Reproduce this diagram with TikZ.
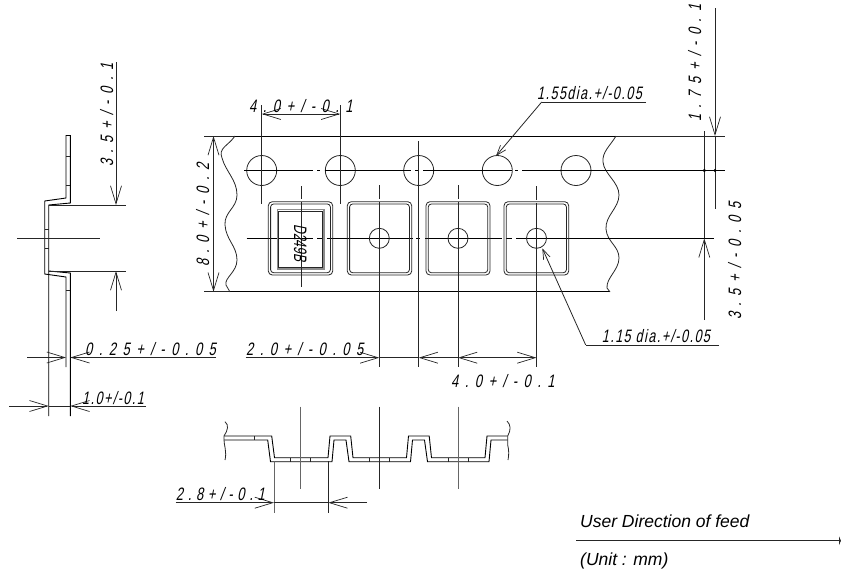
\documentclass[tikz,border=0pt]{standalone}
\usepackage{fontspec}
\setmainfont{Liberation Sans}
\newfontfamily\dimwide[FakeStretch=0.72,FakeSlant=0.2,LetterSpace=36]{Liberation Sans}
\newfontfamily\dimmid[FakeStretch=0.72,FakeSlant=0.2,LetterSpace=26]{Liberation Sans}
\newfontfamily\dimtight[FakeStretch=0.7,FakeSlant=0.2,LetterSpace=8]{Liberation Sans}
\newfontfamily\dimmark[FakeStretch=0.67,FakeSlant=0.2]{Liberation Sans}
\usetikzlibrary{arrows.meta}
\tikzset{
  outline/.style={black, line width=0.9pt},
  thinline/.style={black!85, line width=0.8pt},
  dimtip/.style={-{Straight Barb[length=18pt,width=11pt,line width=0.7pt]}},
  leadertip/.style={-{Straight Barb[length=10pt,width=7pt,line width=0.7pt]}},
  dimtext/.style={inner sep=0pt, anchor=base west, font=\dimwide\fontsize{18}{18}\selectfont},
  midtext/.style={inner sep=0pt, anchor=base west, font=\dimmid\fontsize{18}{18}\selectfont},
  leadertext/.style={inner sep=0pt, anchor=base west, font=\dimtight\fontsize{18}{18}\selectfont},
  notetext/.style={inner sep=0pt, anchor=base west, font=\itshape\fontsize{17.5}{17.5}\selectfont},
}
\begin{document}
\begin{tikzpicture}[x=1pt,y=-1pt]
\useasboundingbox (0,0) rectangle (841,574);

% side view
\draw[outline] (66,135) -- (70.3,135);
\draw[outline] (66,135) -- (66,198) -- (44.7,201) -- (44.7,274) -- (66,277) -- (66,367);
\draw[outline] (70.3,135) -- (70.3,203) -- (48.7,205) -- (48.7,416);
\draw[outline] (48.7,271) -- (70.3,273) -- (70.3,416);
\draw[thinline] (66,156) -- (70.3,156);
\draw[thinline] (66,185) -- (70.3,185);
\draw[thinline] (66,290) -- (70.3,290);
\draw[thinline] (44.7,229) -- (48.7,229);
\draw[thinline] (44.7,248) -- (48.7,248);
\draw[thinline] (17,238) -- (99.5,238);
\draw[thinline] (48.7,205) -- (126,205);
\draw[thinline] (48.7,271) -- (126,271);

\draw[thinline, dimtip] (116,62) -- (116,205);
\draw[thinline, dimtip] (116,311) -- (116,271);
\node[dimtext, rotate=90] at (113,167) {3.5+/-0.1};

\draw[thinline, dimtip] (27,357.5) -- (66,357.5);
\draw[thinline, dimtip] (216,357.5) -- (70.3,357.5);
\node[dimtext] at (85,355) {0.25+/-0.05};
\draw[thinline, dimtip] (9,406) -- (48.7,406);
\draw[thinline] (48.7,406) -- (70.3,406);
\draw[thinline, dimtip] (146,406) -- (70.3,406);
\node[leadertext] at (82,404) {1.0+/-0.1};

% tape, top view
\draw[outline] (235,136.5) -- (616,136.5);
\draw[outline] (230,291.7) -- (610,291.7);
\draw[thinline] (204,136.5) -- (235,136.5);
\draw[thinline] (204,291.7) -- (230,291.7);
\draw[thinline] (616,136.5) -- (725,136.5);
\draw[thinline] (235,136) .. controls (228,146) and (218,148) .. (222,158)
  .. controls (226,172) and (237,180) .. (237,195)
  .. controls (237,208) and (224,212) .. (225,225)
  .. controls (226,240) and (237,246) .. (237,260)
  .. controls (237,272) and (224,278) .. (226,285) -- (230,292);
\draw[thinline] (616,136) .. controls (610,146) and (602,152) .. (603,162)
  .. controls (604,174) and (619,182) .. (619,195)
  .. controls (619,208) and (605,216) .. (606,229)
  .. controls (607,242) and (619,246) .. (619,258)
  .. controls (619,270) and (606,278) .. (607,288) -- (610,292);

% sprocket holes
\draw[thinline] (261.7,170.5) circle (15);
\draw[thinline] (340.3,170.5) circle (15);
\draw[thinline] (418.7,170.5) circle (15);
\draw[thinline] (497.3,170.5) circle (15);
\draw[thinline] (576,170.5) circle (15);

% centre lines
\draw[outline] (244,170.5) -- (313,170.5);
\draw[outline] (317,170.5) -- (320,170.5);
\draw[outline] (325,170.5) -- (411,170.5);
\draw[outline] (415,170.5) -- (418,170.5);
\draw[outline] (423,170.5) -- (512,170.5);
\draw[outline] (515,170.5) -- (518,170.5);
\draw[outline] (522,170.5) -- (725,170.5);
\draw[outline] (246.7,238.3) -- (313,238.3);
\draw[outline] (317,238.3) -- (323,238.3);
\draw[outline] (327,238.3) -- (413,238.3);
\draw[outline] (416,238.3) -- (420,238.3);
\draw[outline] (425,238.3) -- (502,238.3);
\draw[outline] (506,238.3) -- (512,238.3);
\draw[outline] (516,238.3) -- (714,238.3);

% packages in the pockets
\draw[thinline, rounded corners=4pt] (268.3,201.7) rectangle (332.7,275);
\draw[thinline, rounded corners=3pt] (270.6,204) rectangle (330.4,272.7);
\draw[black!45, line width=1.8pt] (277.5,209.5) rectangle (324,269);
\draw[black!85, line width=0.7pt] (278.7,211) rectangle (322.7,267);
\draw[thinline, rounded corners=4pt] (347.3,201.7) rectangle (411.7,275);
\draw[thinline, rounded corners=3pt] (349.6,204) rectangle (409.4,272.7);
\draw[thinline, rounded corners=4pt] (426,201.7) rectangle (490,275);
\draw[thinline, rounded corners=3pt] (428.3,204) rectangle (487.7,272.7);
\draw[thinline, rounded corners=4pt] (504,201.7) rectangle (568.7,275);
\draw[thinline, rounded corners=3pt] (506.3,204) rectangle (566.4,272.7);
\draw[thinline] (379.3,238.3) circle (10);
\draw[thinline] (458,238.3) circle (10);
\draw[thinline] (536.5,238.3) circle (10);

% extension lines
\draw[thinline] (301,186) -- (301,199);
\draw[thinline] (301,202) -- (301,287);
\draw[thinline] (379.3,185) -- (379.3,199);
\draw[thinline] (379.3,202) -- (379.3,367);
\draw[thinline] (458,185) -- (458,199);
\draw[thinline] (458,202) -- (458,367);
\draw[thinline] (536.5,186) -- (536.5,200);
\draw[thinline] (536.5,203) -- (536.5,367);
\draw[thinline] (418.7,141) -- (418.7,367);
\draw[thinline] (261.7,105) -- (261.7,204);
\draw[thinline] (340.3,105) -- (340.3,204);
\node[inner sep=0pt, rotate=-90, font=\dimmark\fontsize{18}{18}\selectfont] (marking) at (300.3,243) {D249B};

% dimensions of the tape
\draw[thinline, dimtip] (301,114) -- (261.7,114);
\draw[thinline, dimtip] (301,114) -- (340.3,114);
\node[dimtext] at (249,112) {4.0+/-0.1};
\draw[thinline, dimtip] (213.5,214) -- (213.5,136);
\draw[thinline, dimtip] (213.5,214) -- (213.5,291.7);
\node[dimtext, rotate=90] at (209,267) {8.0+/-0.2};

\draw[thinline, dimtip] (715,8) -- (715,136);
\draw[thinline] (715,136) -- (715,208.7);
\draw[thinline] (704.3,131) -- (704.3,238);
\draw[thinline, dimtip] (704.3,320) -- (704.3,238.3);
\fill (704.3,170.5) circle (1.7);
\fill (715,170.5) circle (1.7);
\node[dimtext, rotate=90] at (701,122) {1.75+/-0.1};
\node[dimtext, rotate=90] at (741,320) {3.5+/-0.05};

\draw[thinline] (646,102) -- (541.7,102);
\draw[thinline, leadertip] (541.7,102) -- (496,156);
\node[leadertext] at (537,99) {1.55dia.+/-0.05};
\draw[thinline] (719,345) -- (585.7,345);
\draw[thinline, leadertip] (585.7,345) -- (542.3,248.3);
\node[leadertext] at (601.7,342.7) {1.15 dia.+/-0.05};

\draw[thinline, dimtip] (245.7,357.7) -- (379.3,357.7);
\draw[thinline] (379.3,357.7) -- (418.7,357.7);
\draw[thinline, dimtip] (458,357.7) -- (418.7,357.7);
\draw[thinline, dimtip] (497,357.7) -- (458,357.7);
\draw[thinline, dimtip] (497,357.7) -- (536.5,357.7);
\node[dimtext] at (246,355) {2.0+/-0.05};
\node[dimtext] at (451,387.7) {4.0+/-0.1};

% tape, section
\draw[outline] (224,436) -- (271.7,436) -- (274.5,457.7) -- (328,457.7) -- (330,436) -- (350.7,436) -- (353,457.7)
  -- (406.5,457.7) -- (408.5,436) -- (429.2,436) -- (431.5,457.7) -- (485,457.7) -- (487,436) -- (507.7,436);
\draw[outline] (224,440) -- (267.7,440) -- (270.5,461.7) -- (332,461.7) -- (334,440) -- (346,440) -- (349,461.7)
  -- (410.5,461.7) -- (412.5,440) -- (424.5,440) -- (427.5,461.7) -- (489,461.7) -- (491,440) -- (507.7,440);
\draw[thinline] (254,436) -- (254,440);
\draw[thinline] (290.7,457.7) -- (290.7,461.7);
\draw[thinline] (310.7,457.7) -- (310.7,461.7);
\draw[thinline] (369,457.7) -- (369,461.7);
\draw[thinline] (389,457.7) -- (389,461.7);
\draw[thinline] (448,457.7) -- (448,461.7);
\draw[thinline] (468,457.7) -- (468,461.7);
\draw[thinline] (225,421.7) .. controls (229,425) and (228,430) .. (224,436) -- (224,440)
  .. controls (224,445) and (227,452) .. (225,460);
\draw[thinline] (507,421) .. controls (511,425) and (511,430) .. (507.7,436) -- (507.7,445)
  .. controls (509,450) and (509,455) .. (508,460);
\draw[black!60, line width=0.8pt] (300.7,406.7) -- (300.7,489);
\draw[thinline] (379.3,406.7) -- (379.3,489);
\draw[black!60, line width=0.8pt] (458,406.7) -- (458,489);
\draw[black!60, line width=0.8pt] (274,461) -- (274,513.3);
\draw[thinline] (328.3,461) -- (328.3,513.3);
\draw[thinline, dimtip] (175.7,502.7) -- (274,502.7);
\draw[thinline] (274,502.7) -- (328.3,502.7);
\draw[thinline, dimtip] (367,502.7) -- (328.3,502.7);
\node[midtext] at (175.7,500.7) {2.8+/-0.1};

% feed direction
\node[notetext] at (580,527.7) {User Direction of feed};
\draw[thinline, -{Latex[length=2pt,width=10pt]}] (576,540.7) -- (841,540.7);
\node[notetext] at (580,565) {(Unit : mm)};
\end{tikzpicture}
\end{document}
